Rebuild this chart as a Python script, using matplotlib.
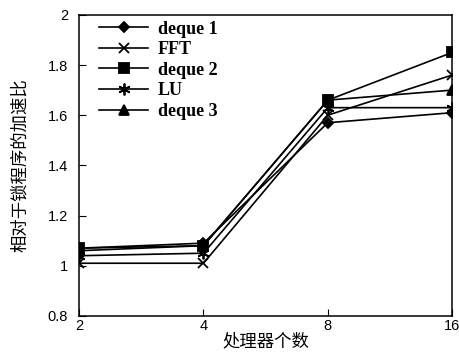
import matplotlib
matplotlib.use("Agg")
import matplotlib.pyplot as plt

# processor counts (equally spaced categories)
procs = ["2", "4", "8", "16"]

# speedup relative to the lock version
deque1 = [1.07, 1.09, 1.57, 1.61]
fft = [1.01, 1.01, 1.60, 1.76]
deque2 = [1.07, 1.08, 1.66, 1.85]
lu = [1.04, 1.05, 1.63, 1.63]
deque3 = [1.06, 1.08, 1.66, 1.70]

series = [
    ("deque 1", deque1, "D", 5.5),
    ("FFT", fft, "x", 7.5),
    ("deque 2", deque2, "s", 6.5),
    ("LU", lu, (6, 2, 0), 8.5),
    ("deque 3", deque3, "^", 7.5),
]

fig = plt.figure(figsize=(4.6, 3.53), dpi=100)
ax = fig.add_axes([0.172, 0.105, 0.811, 0.853])

x = range(len(procs))
for label, vals, marker, ms in series:
    ax.plot(x, vals, color="black", linewidth=1.2, marker=marker,
            markersize=ms, markeredgewidth=1.3, label=label)

ax.set_xlim(0, len(procs) - 1)
ax.set_ylim(0.8, 2.0)
ax.set_xticks(list(x))
ax.set_xticklabels(procs)
ax.set_yticks([0.8, 1.0, 1.2, 1.4, 1.6, 1.8, 2.0])
ax.set_yticklabels(["0.8", "1", "1.2", "1.4", "1.6", "1.8", "2"])
ax.tick_params(direction="in", length=5, labelsize=10.5, colors="black",
               top=False, right=False)
ax.tick_params(axis="y", pad=8)
ax.tick_params(axis="x", pad=2)
for lbl in ax.get_xticklabels() + ax.get_yticklabels():
    lbl.set_family("Liberation Sans")
for sp in ax.spines.values():
    sp.set_linewidth(1.1)

ax.set_ylabel("相对于锁程序的加速比", family=["Noto Sans CJK SC", "DejaVu Sans"],
              fontsize=12.5, labelpad=13)
ax.set_xlabel("处理器个数", family=["Noto Sans CJK SC", "DejaVu Sans"],
              fontsize=12.5, labelpad=0)

leg = ax.legend(loc="upper left", frameon=False, handlelength=2.7,
                prop={"family": "Liberation Serif", "weight": "bold", "size": 13},
                labelspacing=0.2, handletextpad=0.55,
                borderaxespad=0.0, bbox_to_anchor=(0.035, 1.005))

fig.savefig("out.png", dpi=100)
